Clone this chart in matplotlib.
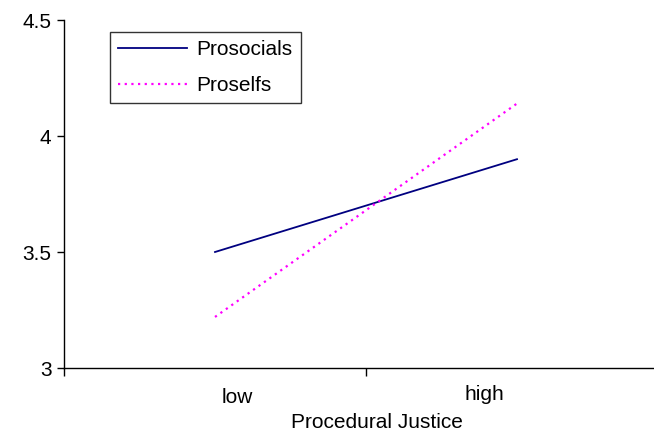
import matplotlib.pyplot as plt
from matplotlib.transforms import ScaledTranslation

plt.rcParams['font.family'] = ['Liberation Sans', 'DejaVu Sans']

categories = ['low', 'high']
prosocials = [3.5, 3.9]
proselfs = [3.22, 4.14]
y_ticks = [3, 3.5, 4, 4.5]
y_labels = ['3', '3.5', '4', '4.5']

fig = plt.figure(figsize=(6.54, 4.34), dpi=100)
ax = fig.add_axes([64 / 654, 66 / 434, 604 / 654, 348 / 434])

x = list(range(len(categories)))
ax.plot(x, prosocials, color='#000080', linewidth=1.3, label='Prosocials')
ax.plot(x, proselfs, color='#FF00FF', linewidth=1.6, linestyle=(0, (1.0, 2.0)),
        label='Proselfs')

ax.set_xlim(-0.5, 1.5)
ax.set_ylim(3, 4.5)
ax.set_yticks(y_ticks)
ax.set_yticklabels(y_labels, fontsize=15)

# boundary ticks between categories, labels near the centres
ax.set_xticks([-0.5, 0.5, 1.5])
ax.set_xticklabels(['', '', ''])
ax.set_xticks(x, minor=True)
ax.set_xticklabels(categories, minor=True, fontsize=15)
ax.tick_params(axis='x', which='major', length=6, width=1, direction='out')
ax.tick_params(axis='x', which='minor', length=0, pad=14)
ax.tick_params(axis='y', length=5, width=1, direction='out', pad=4)

# labels sit a bit inward of the category centres in the original
shifts = [(22, -1), (-33, 2)]
for lab, (dx, dy) in zip(ax.get_xticklabels(minor=True), shifts):
    lab.set_transform(lab.get_transform()
                      + ScaledTranslation(dx / 100, dy / 100, fig.dpi_scale_trans))

ax.spines['top'].set_visible(False)
ax.spines['right'].set_visible(False)
ax.spines['left'].set_linewidth(1)
ax.spines['bottom'].set_linewidth(1)

ax.set_xlabel('Procedural Justice', fontsize=15)
ax.xaxis.set_label_coords((377 - 64) / 604, -45 / 348)

leg = ax.legend(loc='upper left', bbox_to_anchor=(46 / 604, 336 / 348),
                fontsize=15, frameon=True, fancybox=False, shadow=False,
                handlelength=3.3, handletextpad=0.45, borderpad=0.4,
                labelspacing=0.8, borderaxespad=0)
leg.get_frame().set_edgecolor('black')
leg.get_frame().set_linewidth(1)

fig.savefig('out.png', dpi=100)
